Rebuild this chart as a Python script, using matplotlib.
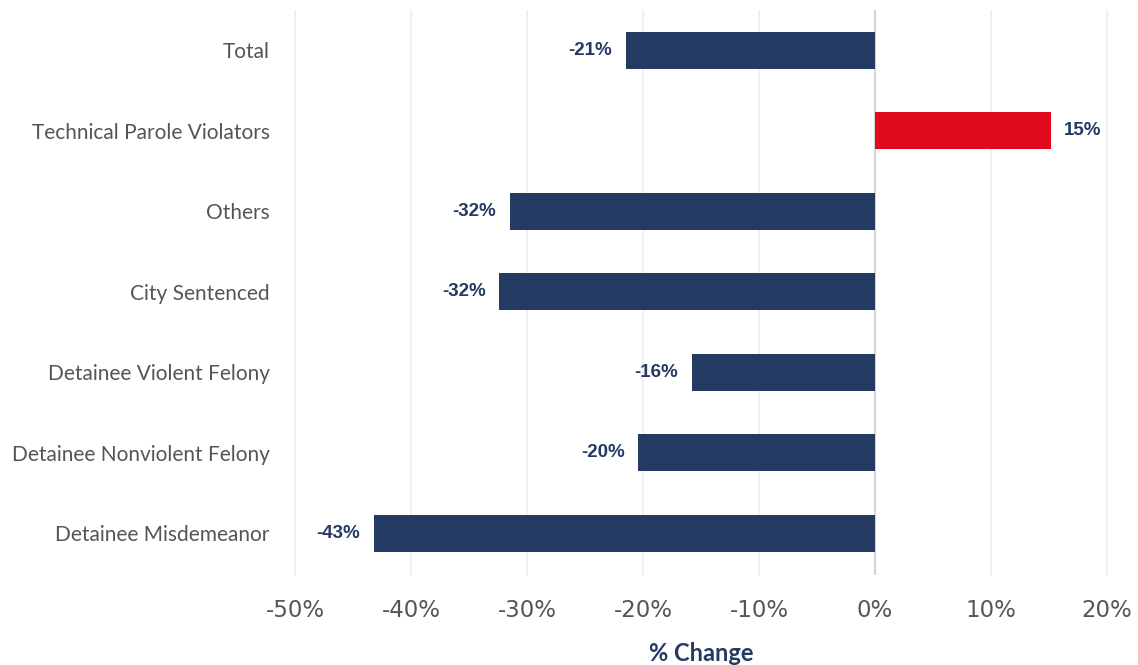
import matplotlib.pyplot as plt
import numpy as np

categories = ['Total', 'Technical Parole Violators', 'Others', 'City Sentenced',
              'Detainee Violent Felony', 'Detainee Nonviolent Felony',
              'Detainee Misdemeanor']
values = [-21.5, 15.2, -31.5, -32.4, -15.8, -20.4, -43.2]
labels = ['-21%', '15%', '-32%', '-32%', '-16%', '-20%', '-43%']
xticks = [-50, -40, -30, -20, -10, 0, 10, 20]

navy = '#243a63'
red = '#e00b1a'

fig = plt.figure(figsize=(11.38, 6.65), dpi=100)
ax = fig.add_axes([0.2566, 0.1353, 0.7188, 0.8497])

y = np.arange(len(categories))
colors = [red if v > 0 else navy for v in values]
ax.barh(y, values, height=0.46, color=colors, zorder=3)

for yi, v, lab in zip(y, values, labels):
    if v < 0:
        ax.annotate(lab, (v, yi), xytext=(-10, 0), textcoords='offset points',
                    ha='right', va='center', color=navy, fontsize=13.5,
                    fontweight='bold', family=['Liberation Sans', 'DejaVu Sans'])
    else:
        ax.annotate(lab, (v, yi), xytext=(9, 0), textcoords='offset points',
                    ha='left', va='center', color=navy, fontsize=13.5,
                    fontweight='bold', family=['Liberation Sans', 'DejaVu Sans'])

ax.set_xlim(-50.3, 20.3)
ax.set_ylim(6.52, -0.5)
ax.set_xticks(xticks)
ax.set_xticklabels([f'{t}%' for t in xticks], family=['DejaVu Sans Condensed', 'DejaVu Sans'],
                   fontsize=16.5, color='#555555')
ax.set_yticks(y)
ax.set_yticklabels(categories, family=['Lato', 'DejaVu Sans'], fontsize=15, color='#555555')
ax.tick_params(axis='both', length=0)
ax.tick_params(axis='x', pad=17)
ax.tick_params(axis='y', pad=16)

ax.grid(axis='x', color='#eeeeee', linewidth=1.2, zorder=0)
ax.axvline(0, color='#d4d4d4', linewidth=1.5, zorder=2)
for s in ax.spines.values():
    s.set_visible(False)

ax.set_xlabel('% Change', family=['Lato', 'DejaVu Sans'], fontsize=17,
              fontweight='bold', color=navy, labelpad=15)

fig.savefig('out.png', dpi=100)
